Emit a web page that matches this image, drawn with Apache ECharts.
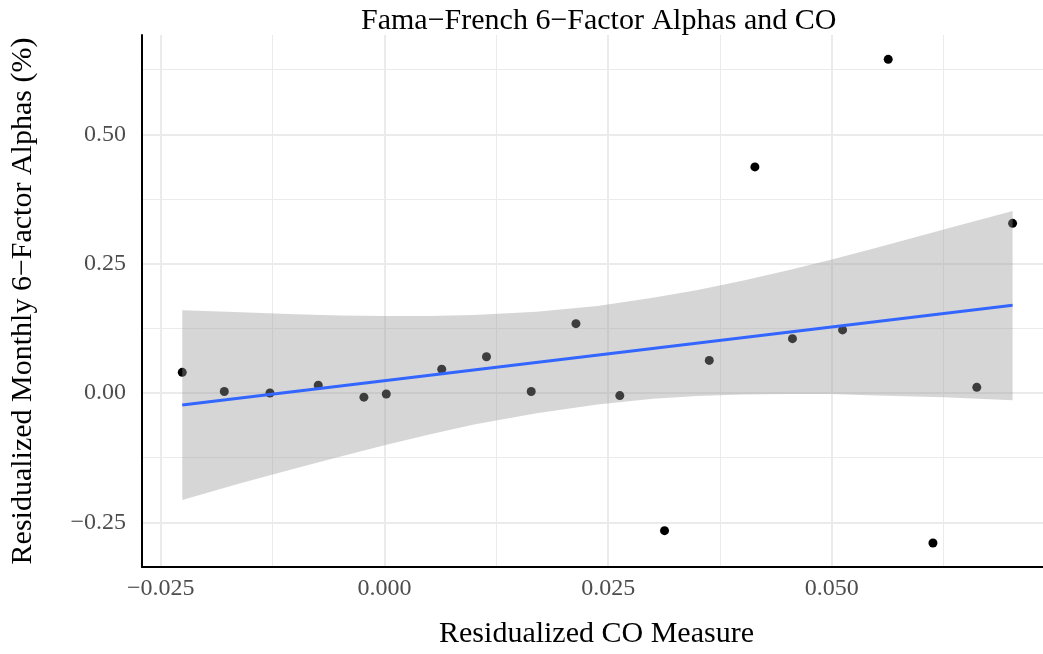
<!DOCTYPE html>
<html>
<head>
<meta charset="utf-8">
<script src="https://cdn.jsdelivr.net/npm/echarts@6/dist/echarts.min.js"></script>
<style>
  html, body { margin: 0; padding: 0; background: #fff; }
  #chart { width: 1043px; height: 654px; }
</style>
</head>
<body>
<div id="chart"></div>
<script>
// scatter points
const coX = [-0.0226, -0.0179, -0.0128, -0.0074, -0.0023, 0.0002, 0.0064, 0.0114, 0.0164, 0.0214,
  0.0263, 0.0313, 0.0363, 0.0414, 0.0456, 0.0512, 0.0563, 0.0613, 0.0662, 0.0702];
const alphaY = [0.040, 0.003, 0.000, 0.015, -0.008, -0.002, 0.046, 0.070, 0.003, 0.134,
  -0.005, -0.266, 0.063, 0.437, 0.105, 0.122, 0.645, -0.290, 0.011, 0.328];

// fitted line ends and confidence band edges
const fitX = [-0.0226, 0.0702];
const fitY = [-0.023, 0.1696];
const bandX = [-0.0226, -0.016, -0.01, -0.005, 0, 0.005, 0.01, 0.017, 0.0238, 0.030, 0.035, 0.040, 0.045, 0.050, 0.055, 0.0625, 0.0702];
const bandLo = [-0.207, -0.174, -0.146, -0.123, -0.101, -0.080, -0.061, -0.039, -0.022, -0.011, -0.006, -0.003, -0.002, -0.002, -0.005, -0.008, -0.014];
const bandHi = [0.160, 0.156, 0.152, 0.150, 0.149, 0.149, 0.151, 0.157, 0.168, 0.184, 0.199, 0.217, 0.237, 0.258, 0.281, 0.316, 0.352];

const xMajor = [-0.025, 0, 0.025, 0.05];
const xMinor = [-0.0125, 0.0125, 0.0375, 0.0625];
const yMajor = [-0.25, 0, 0.25, 0.5];
const yMinor = [-0.125, 0.125, 0.375, 0.625];

const serif = 'Liberation Serif';
const fmt = d => v => (v < 0 ? '\u2212' : '') + Math.abs(v).toFixed(d);

const chart = echarts.init(document.getElementById('chart'));

const gridLine = w => ({ show: true, lineStyle: { color: '#ebebeb', width: w } });

chart.setOption({
  animation: false,
  grid: { left: 142, right: 0, top: 35, bottom: 83, containLabel: false },
  graphic: [
    {
      type: 'text', left: 361, top: 6,
      style: { text: 'Fama\u2212French 6\u2212Factor Alphas and CO', font: '30px "Liberation Serif"', fill: '#000' }
    }
  ],
  xAxis: [
    {
      type: 'value', min: -0.0271, max: 0.0736,
      name: 'Residualized CO Measure', nameLocation: 'middle', nameGap: 52,
      nameTextStyle: { fontFamily: serif, fontSize: 30, color: '#000', padding: [0, 0, 0, 8] },
      axisLine: { show: true, onZero: false, lineStyle: { color: '#000', width: 2 } },
      axisTick: { show: false, customValues: xMajor },
      axisLabel: { customValues: xMajor, formatter: fmt(3), fontFamily: serif, fontSize: 24, color: '#4d4d4d', margin: 10 },
      splitLine: gridLine(2)
    },
    {
      type: 'value', min: -0.0271, max: 0.0736, position: 'top',
      axisLine: { show: false }, axisTick: { show: false, customValues: xMinor },
      axisLabel: { show: false },
      splitLine: gridLine(1)
    }
  ],
  yAxis: [
    {
      type: 'value', min: -0.3363, max: 0.692,
      name: 'Residualized Monthly 6\u2212Factor Alphas (%)', nameLocation: 'middle', nameGap: 104,
      nameTextStyle: { fontFamily: serif, fontSize: 30, color: '#000' },
      axisLine: { show: true, onZero: false, lineStyle: { color: '#000', width: 2 } },
      axisTick: { show: false, customValues: yMajor },
      axisLabel: { customValues: yMajor, formatter: fmt(2), fontFamily: serif, fontSize: 24, color: '#4d4d4d', margin: 16 },
      splitLine: gridLine(2)
    },
    {
      type: 'value', min: -0.3363, max: 0.692, position: 'right',
      axisLine: { show: false }, axisTick: { show: false, customValues: yMinor },
      axisLabel: { show: false },
      splitLine: gridLine(1)
    }
  ],
  series: [
    {
      type: 'scatter', z: 2,
      data: coX.map((x, i) => [x, alphaY[i]]),
      symbolSize: 9,
      itemStyle: { color: '#000', opacity: 1 }
    },
    {
      type: 'custom', z: 3,
      data: bandX.map((x, i) => [x, bandLo[i], bandHi[i]]),
      encode: { x: 0, y: [1, 2] },
      renderItem: (params, api) => {
        if (params.dataIndex !== 0) return;
        const pts = [];
        for (let i = 0; i < bandX.length; i++) pts.push(api.coord([bandX[i], bandHi[i]]));
        for (let i = bandX.length - 1; i >= 0; i--) pts.push(api.coord([bandX[i], bandLo[i]]));
        return { type: 'polygon', shape: { points: pts }, style: { fill: 'rgba(153,153,153,0.4)' } };
      }
    },
    {
      type: 'line', z: 4,
      data: fitX.map((x, i) => [x, fitY[i]]),
      showSymbol: false,
      lineStyle: { color: '#3366ff', width: 3 }
    }
  ]
});
</script>
</body>
</html>
